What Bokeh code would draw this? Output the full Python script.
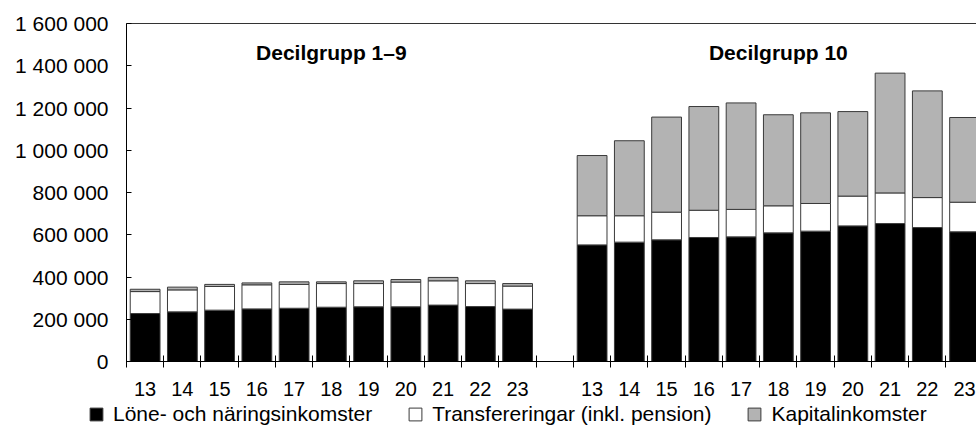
from bokeh.plotting import figure
from bokeh.layouts import column
from bokeh.models import (FixedTicker, LinearAxis, Range1d, Legend, LegendItem,
                          ColumnDataSource)
from bokeh.core.properties import value
from bokeh.embed import file_html
from bokeh.resources import INLINE

# ---------------- data ----------------
years = ["13", "14", "15", "16", "17", "18", "19", "20", "21", "22", "23"]
groups = ["Decilgrupp 1\u20139", "Decilgrupp 10"]
series_names = ["L\u00f6ne- och n\u00e4ringsinkomster",
                "Transfereringar (inkl. pension)",
                "Kapitalinkomster"]

lone_1_9 = [227000, 235000, 243000, 249000, 252000, 257000, 259000, 259000, 267000, 260000, 248000]
transf_1_9 = [104000, 104000, 112000, 114000, 113000, 112000, 110000, 117000, 115000, 109000, 109000]
kapital_1_9 = [11000, 13000, 10000, 9000, 12000, 8000, 13000, 12000, 16000, 13000, 12000]

lone_10 = [552000, 565000, 576000, 587000, 590000, 609000, 617000, 642000, 653000, 634000, 614000]
transf_10 = [138000, 125000, 131000, 129000, 130000, 128000, 131000, 141000, 145000, 142000, 140000]
kapital_10 = [285000, 355000, 450000, 491000, 504000, 431000, 429000, 400000, 567000, 505000, 401000]

yticks = [0, 200000, 400000, 600000, 800000, 1000000, 1200000, 1400000, 1600000]
ytick_labels = ["0", "200 000", "400 000", "600 000", "800 000",
                "1 000 000", "1 200 000", "1 400 000", "1 600 000"]

colors = ["#000000", "#ffffff", "#b3b3b3"]

# ---------------- layout helpers ----------------
n = len(years)
x1 = list(range(n))                 # slots for group 1
x2 = [i + n + 1 for i in range(n)]  # slots for group 2 (one empty slot between)
xs = x1 + x2
boundaries = [i - 0.5 for i in x1] + [x1[-1] + 0.5] + [i - 0.5 for i in x2] + [x2[-1] + 0.5]

src = ColumnDataSource(dict(
    x=xs,
    lone=lone_1_9 + lone_10,
    transf=transf_1_9 + transf_10,
    kapital=kapital_1_9 + kapital_10,
))
stack_cols = ["lone", "transf", "kapital"]

FONT = "Liberation Sans"
LINE = "#3a3a3a"

p = figure(width=976, height=400, output_backend="svg", toolbar_location=None,
           x_range=Range1d(-0.5, 22.32), y_range=Range1d(0, 1600000),
           min_border_left=126, min_border_right=0, min_border_top=23,
           min_border_bottom=39)
p.outline_line_color = None
p.xgrid.visible = False
p.ygrid.visible = False
p.background_fill_color = "white"
p.border_fill_color = "white"

renderers = p.vbar_stack(stack_cols, x="x", width=0.8,
                         color=colors, line_color=LINE, line_width=1,
                         source=src)

# group titles
p.text(x=[sum(x1) / n, sum(x2) / n], y=[1464000, 1464000], text=groups,
       text_font=value(FONT), text_font_style="bold", text_font_size="21px",
       text_align="center", text_baseline="middle", text_color="#000000")

# x axis
xa = p.xaxis[0]
xa.ticker = FixedTicker(ticks=xs, minor_ticks=boundaries)
xa.major_label_overrides = {x: y for x, y in zip(xs, years + years)}
xa.major_tick_line_color = None
xa.major_tick_in = 0
xa.major_tick_out = 0
xa.minor_tick_line_color = "#000000"
xa.minor_tick_in = 6
xa.minor_tick_out = 6
xa.axis_line_color = "#000000"
xa.major_label_standoff = 14
xa.major_label_text_font = FONT
xa.major_label_text_font_size = "20px"
xa.major_label_text_color = "#000000"

# y axis
ya = p.yaxis[0]
ya.ticker = FixedTicker(ticks=yticks)
ya.major_label_overrides = {v: s for v, s in zip(yticks, ytick_labels)}
ya.major_tick_in = 5
ya.major_tick_out = 0
ya.major_tick_line_color = "#000000"
ya.minor_tick_line_color = None
ya.axis_line_color = "#000000"
ya.major_label_standoff = 18
ya.major_label_text_font = FONT
ya.major_label_text_font_size = "21px"
ya.major_label_text_color = "#000000"

# top frame line
top = LinearAxis(ticker=FixedTicker(ticks=[]), major_label_text_font_size="0px",
                 major_tick_line_color=None, minor_tick_line_color=None,
                 axis_line_color="#333333")
p.add_layout(top, "above")

# ---------------- legend strip ----------------
pl = figure(width=976, height=28, output_backend="svg", toolbar_location=None,
            x_range=Range1d(-0.5, 22.32), y_range=Range1d(2000000, 3000000),
            x_axis_location=None, y_axis_location=None,
            min_border_left=0, min_border_right=0, min_border_top=0,
            min_border_bottom=0)
pl.outline_line_color = None
pl.xgrid.visible = False
pl.ygrid.visible = False
pl.border_fill_color = "white"
pl.background_fill_color = "white"
if "frame_align" in pl.properties():
    pl.frame_align = False
    p.frame_align = False

# same stacked series (outside this strip's visible range) used as legend keys
proxies = pl.vbar_stack(stack_cols, x="x", width=0.8, color=colors,
                        line_color=LINE, line_width=1, source=src)

legend = Legend(items=[LegendItem(label=name, renderers=[r])
                       for name, r in zip(series_names, proxies)],
                orientation="horizontal", location=(88, 2),
                border_line_color=None, background_fill_alpha=0,
                padding=0, margin=0, spacing=35, label_standoff=9,
                glyph_width=16, glyph_height=16,
                label_text_font=FONT, label_text_font_size="21px",
                label_text_color="#000000")
pl.add_layout(legend)

open("out.html", "w").write(file_html(column(p, pl, spacing=0), INLINE))
